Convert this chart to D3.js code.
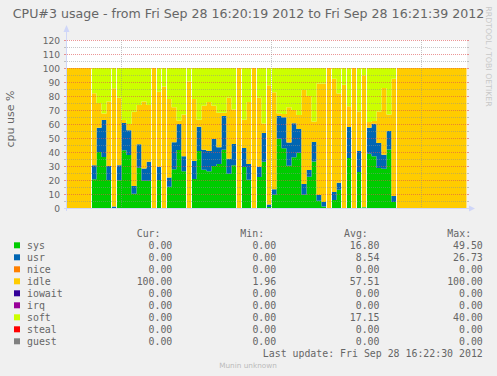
<!DOCTYPE html>
<html>
<head>
<meta charset="utf-8">
<script src="https://cdn.jsdelivr.net/npm/d3@7"></script>
<style>
  body { margin: 0; background: #f0f0f0; }
  svg { display: block; }
</style>
</head>
<body>
<svg id="chart"></svg>
<script>
// one sample per second, 16:20:19 .. 16:21:39
const start_time = new Date(2012, 8, 28, 16, 20, 19);
const end_time = new Date(2012, 8, 28, 16, 21, 39);

const sys = [0, 0, 0, 0, 0, 20.5, 40.0, 36.4, 20.0, 0, 19.8, 41.2, 37.8, 10.2, 28.7, 19.5,
  19.5, 0, 20.0, 0, 15.1, 27.6, 41.5, 26.3, 0, 20.8, 40.8, 27.4, 26.3, 30.0, 31.5, 41.6,
  24.4, 30.5, 0, 29.3, 20.1, 0, 22.2, 33.1, 0.7, 9.4, 49.5, 42.6, 30.1, 36.3, 39.5, 9.4,
  22.3, 33.2, 5.1, 1.1, 0, 5.8, 13.1, 0, 35.7, 0, 25.7, 0.5, 38.8, 36.9, 28.6, 28.1,
  41.7, 4.3, 0, 0, 0, 0, 0, 0, 0, 0, 0, 0, 0, 0, 0, 0];
const usr = [0, 0, 0, 0, 0, 10.0, 17.4, 26.5, 10.0, 1.0, 10.7, 19.6, 17.8, 5.5, 16.8, 8.8,
  13.5, 0, 9.4, 0, 6.6, 19.4, 18.5, 10.7, 0, 12.8, 17.2, 14.2, 14.5, 19.2, 11.9, 24.1,
  10.7, 15.2, 0, 13.6, 11.3, 0, 7.3, 20.5, 1.8, 4.0, 16.2, 22.2, 16.6, 24.3, 17.0, 7.7,
  4.8, 13.9, 4.1, 3.2, 0, 5.6, 4.9, 0, 22.2, 0, 15.0, 0, 18.6, 23.3, 17.8, 10.0,
  13.3, 4.3, 0, 0, 0, 0, 0, 0, 0, 0, 0, 0, 0, 0, 0, 0];
const idle = [100, 100, 100, 100, 100, 51.5, 17.6, 4.6, 46.0, 84.6, 48.3, 2.0, 4.4, 53.1, 28.1, 47.7,
  40.6, 100, 53.6, 86.7, 56.1, 25.0, 2.5, 29.8, 90.4, 44.2, 5.0, 31.4, 35.0, 23.8, 24.7, 2.4,
  43.6, 24.6, 100, 20.2, 44.4, 100, 49.3, 6.8, 85.2, 69.3, 1.96, 2.3, 25.2, 9.4, 9.9, 67.2,
  52.9, 14.6, 79.8, 84.7, 100, 81.0, 63.7, 88.1, 14.7, 100, 28.3, 94.3, 4.0, 1.96, 22.6, 47.6,
  11.7, 83.8, 100, 100, 100, 100, 100, 100, 100, 100, 100, 100, 100, 100, 100, 100];
const soft = [0, 0, 0, 0, 0, 18.0, 25.0, 32.5, 24.0, 14.4, 21.2, 37.2, 40.0, 31.2, 26.4, 24.0,
  26.4, 0, 17.0, 13.3, 22.2, 28.0, 37.5, 33.2, 9.6, 22.2, 37.0, 27.0, 24.2, 27.0, 31.9, 31.9,
  21.3, 29.7, 0, 36.9, 24.2, 0, 21.2, 39.6, 12.3, 17.3, 32.3, 32.9, 28.1, 30.0, 33.6, 15.7,
  20.0, 38.3, 11.0, 11.0, 0, 7.6, 18.3, 11.9, 27.4, 0, 31.0, 5.2, 38.6, 37.8, 31.0, 14.3,
  33.3, 7.6, 0, 0, 0, 0, 0, 0, 0, 0, 0, 0, 0, 0, 0, 0];
// nice, iowait, irq, steal and guest are zero over the whole range

const legend_names = ['sys', 'usr', 'nice', 'idle', 'iowait', 'irq', 'soft', 'steal', 'guest'];
const legend_colors = ['#00CC00', '#0066B3', '#FF8000', '#FFCC00', '#330099', '#990099', '#CCFF00', '#FF0000', '#808080'];
const cur_values = ['0.00', '0.00', '0.00', '100.00', '0.00', '0.00', '0.00', '0.00', '0.00'];
const min_values = ['0.00', '0.00', '0.00', '1.96', '0.00', '0.00', '0.00', '0.00', '0.00'];
const avg_values = ['16.80', '8.54', '0.00', '57.51', '0.00', '0.00', '17.15', '0.00', '0.00'];
const max_values = ['49.50', '26.73', '0.00', '100.00', '0.00', '0.00', '40.00', '0.00', '0.00'];

const y_ticks = [0, 10, 20, 30, 40, 50, 60, 70, 80, 90, 100, 110, 120];

const title = 'CPU#3 usage - from Fri Sep 28 16:20:19 2012 to Fri Sep 28 16:21:39 2012';
const ylabel = 'cpu use %';
const last_update = 'Last update: Fri Sep 28 16:22:30 2012';

const width = 497, height = 376;
const plot = { left: 67, right: 467, top: 40, bottom: 208 };
const text_color = '#666';
const axis_color = '#CFD6F8';

const svg = d3.select('#chart')
    .attr('width', width)
    .attr('height', height);

svg.append('rect')
    .attr('width', width)
    .attr('height', height)
    .attr('fill', '#f0f0f0');

const xscale = d3.scaleTime()
    .domain([start_time, end_time])
    .range([plot.left - 0.5, plot.right - 0.5]);

const yscale = d3.scaleLinear()
    .domain([0, 120])
    .range([plot.bottom, plot.top]);

// canvas
svg.append('rect')
    .attr('x', plot.left - 1)
    .attr('y', plot.top)
    .attr('width', plot.right - plot.left + 1)
    .attr('height', plot.bottom - plot.top)
    .attr('fill', '#fff');

// stacked areas
const series_keys = ['sys', 'usr', 'idle', 'soft'];
const series_colors = { sys: '#00CC00', usr: '#0066B3', idle: '#FFCC00', soft: '#CCFF00' };
const rows = sys.map((v, i) => ({
    time: d3.timeSecond.offset(start_time, i),
    sys: v, usr: usr[i], idle: idle[i], soft: soft[i]
}));
// step areas need a closing point at the end of the last second
rows.push(Object.assign({}, rows[rows.length - 1], { time: end_time }));

const stacked = d3.stack().keys(series_keys)(rows);

const area = d3.area()
    .curve(d3.curveStepAfter)
    .x(d => xscale(d.data.time))
    .y0(d => yscale(d[0]))
    .y1(d => yscale(d[1]));

svg.append('g')
    .selectAll('path')
    .data(stacked)
    .join('path')
    .attr('fill', d => series_colors[d.key])
    .attr('d', area);

// rrdtool leaves a light seam where the sys area starts or stops
const seams = rows.slice(1, sys.length).filter((r, k) => (sys[k] < 1) !== (r.sys < 1));
svg.append('g')
    .selectAll('line')
    .data(seams)
    .join('line')
    .attr('x1', d => xscale(d.time))
    .attr('x2', d => xscale(d.time))
    .attr('y1', yscale(100))
    .attr('y2', yscale(0))
    .attr('stroke', 'rgba(255,255,255,0.85)');

// grid on top of the data
const grid = svg.append('g');
yscale.ticks(24).filter(v => v > 0).forEach(v => {
    const major = v % 10 === 0;
    const col = major ? 'rgba(222,80,80,0.6)' : 'rgba(143,143,143,0.5)';
    const y = yscale(v) + 0.5;
    grid.append('line')
        .attr('x1', plot.left).attr('x2', plot.right)
        .attr('y1', y).attr('y2', y)
        .attr('stroke', col)
        .attr('stroke-dasharray', '1,1');
    grid.append('line')
        .attr('x1', plot.left - 3).attr('x2', plot.left - 1)
        .attr('y1', y).attr('y2', y)
        .attr('stroke', col);
    grid.append('line')
        .attr('x1', plot.right).attr('x2', plot.right + 2)
        .attr('y1', y).attr('y2', y)
        .attr('stroke', col);
});
xscale.ticks(d3.timeSecond.every(30)).forEach(t => {
    const x = xscale(t);
    grid.append('line')
        .attr('x1', x).attr('x2', x)
        .attr('y1', plot.top).attr('y2', plot.bottom)
        .attr('stroke', 'rgba(143,143,143,0.5)')
        .attr('stroke-dasharray', '1,1');
});

// axes with arrows
svg.append('line')
    .attr('x1', plot.left - 3).attr('x2', plot.right + 4)
    .attr('y1', plot.bottom + 0.5).attr('y2', plot.bottom + 0.5)
    .attr('stroke', axis_color);
svg.append('line')
    .attr('x1', plot.left - 0.5).attr('x2', plot.left - 0.5)
    .attr('y1', plot.bottom + 3).attr('y2', plot.top - 10)
    .attr('stroke', axis_color);
svg.append('path')
    .attr('d', `M${plot.left - 0.5},${plot.top - 15} L${plot.left - 3.5},${plot.top - 8} L${plot.left + 2.5},${plot.top - 8} Z`)
    .attr('fill', axis_color);
svg.append('path')
    .attr('d', `M${plot.right + 8},${plot.bottom + 0.5} L${plot.right + 2},${plot.bottom - 2.5} L${plot.right + 2},${plot.bottom + 3.5} Z`)
    .attr('fill', axis_color);

// y tick labels
const yaxis = d3.axisLeft(yscale)
    .tickValues(y_ticks)
    .tickSize(0)
    .tickPadding(0);
const yaxis_group = svg.append('g')
    .attr('transform', `translate(60, 0.5)`)
    .call(yaxis);
yaxis_group.select('.domain').remove();
yaxis_group.selectAll('text')
    .attr('fill', text_color)
    .attr('font-family', 'DejaVu Sans')
    .attr('font-size', '9.1px');

// title and y label
svg.append('text')
    .attr('x', 248.5)
    .attr('y', 18.3)
    .attr('text-anchor', 'middle')
    .attr('font-family', 'DejaVu Sans')
    .attr('font-size', '12.6px')
    .attr('fill', text_color)
    .text(title);

svg.append('text')
    .attr('transform', 'translate(13.5, 119) rotate(-90)')
    .attr('text-anchor', 'middle')
    .attr('font-family', 'DejaVu Sans')
    .attr('font-size', '11px')
    .attr('fill', text_color)
    .text(ylabel);

svg.append('text')
    .attr('transform', 'translate(486, 56.5) rotate(90)')
    .attr('text-anchor', 'middle')
    .attr('font-family', 'DejaVu Sans')
    .attr('font-size', '7.8px')
    .attr('fill', '#c8c8c8')
    .text('RRDTOOL / TOBI OETIKER');

// legend
const legend = svg.append('g')
    .attr('font-family', 'DejaVu Sans Mono')
    .attr('font-size', '9.9px')
    .attr('fill', text_color);

const header_y = 236.8;
const row_y = k => 245.5 + 12 * k;
const columns = [
    { head: 'Cur:', head_x: 136.7, end_x: 172.3, values: cur_values },
    { head: 'Min:', head_x: 240.3, end_x: 276.2, values: min_values },
    { head: 'Avg:', head_x: 344, end_x: 379.5, values: avg_values },
    { head: 'Max:', head_x: 447.3, end_x: 482.8, values: max_values }
];

columns.forEach(c => {
    legend.append('text')
        .attr('x', c.head_x)
        .attr('y', header_y)
        .text(c.head);
    c.values.forEach((v, k) => {
        legend.append('text')
            .attr('x', c.end_x)
            .attr('y', row_y(k) + 3.5)
            .attr('text-anchor', 'end')
            .text(v);
    });
});

legend_names.forEach((name, k) => {
    legend.append('rect')
        .attr('x', 14)
        .attr('y', row_y(k) - 3.2)
        .attr('width', 6)
        .attr('height', 6)
        .attr('fill', legend_colors[k]);
    legend.append('text')
        .attr('x', 27)
        .attr('y', row_y(k) + 3.5)
        .text(name);
});

legend.append('text')
    .attr('x', 482.8)
    .attr('y', 357)
    .attr('text-anchor', 'end')
    .text(last_update);

svg.append('text')
    .attr('x', 248)
    .attr('y', 367.5)
    .attr('text-anchor', 'middle')
    .attr('font-family', 'DejaVu Sans')
    .attr('font-size', '7.3px')
    .attr('fill', '#bbb')
    .text('Munin unknown');
</script>
</body>
</html>
